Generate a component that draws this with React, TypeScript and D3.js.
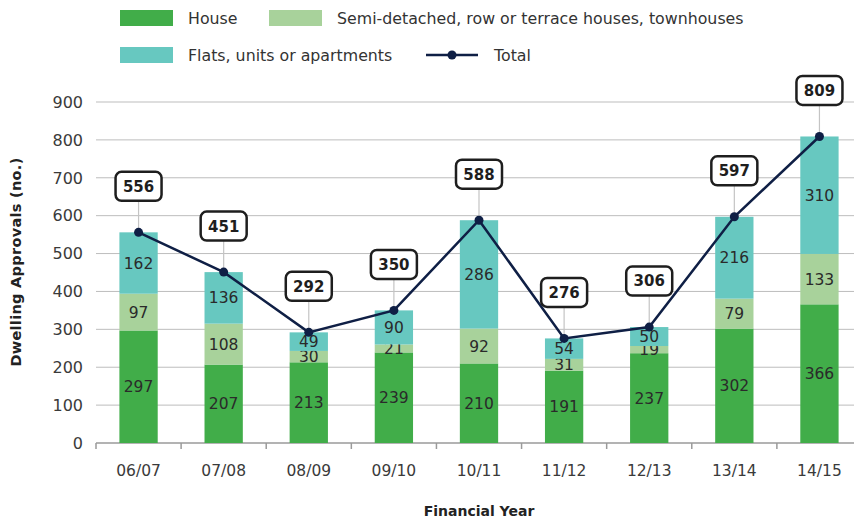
import { useEffect, useRef } from "react";
import * as d3 from "d3";

const years = ["06/07", "07/08", "08/09", "09/10", "10/11", "11/12", "12/13", "13/14", "14/15"];
const house = [297, 207, 213, 239, 210, 191, 237, 302, 366];
const semi = [97, 108, 30, 21, 92, 31, 19, 79, 133];
const flats = [162, 136, 49, 90, 286, 54, 50, 216, 310];
const total = [556, 451, 292, 350, 588, 276, 306, 597, 809];
const yTicks = [0, 100, 200, 300, 400, 500, 600, 700, 800, 900];

const seriesNames = ["House", "Semi-detached, row or terrace houses, townhouses", "Flats, units or apartments"];
const colors = ["#41ad49", "#a8d29b", "#67c8c0"];
const lineColor = "#0f1f45";
const font = "'DejaVu Sans', sans-serif";

export default function App() {
  const ref = useRef<SVGSVGElement>(null);

  useEffect(() => {
    if (!ref.current) return;
    const svg = d3.select(ref.current);
    svg.selectAll("*").remove();

    const width = 854;
    const height = 521;
    const margin = { top: 102, right: -8, bottom: 78, left: 96 };

    const x = d3
      .scaleBand()
      .domain(years)
      .range([margin.left, width - margin.right])
      .paddingInner(0.55)
      .paddingOuter(0.275);

    const y = d3
      .scaleLinear()
      .domain([0, 900])
      .range([height - margin.bottom, margin.top]);

    // Gridlines
    svg
      .append("g")
      .selectAll("line")
      .data(yTicks.slice(1))
      .join("line")
      .attr("x1", margin.left)
      .attr("x2", width - margin.right)
      .attr("y1", (d) => y(d))
      .attr("y2", (d) => y(d))
      .attr("stroke", "#bdbdbd")
      .attr("stroke-width", 1);

    // Y tick labels
    svg
      .append("g")
      .selectAll("text")
      .data(yTicks)
      .join("text")
      .attr("x", 83)
      .attr("y", (d) => y(d))
      .attr("dy", "0.36em")
      .attr("text-anchor", "end")
      .attr("fill", "#3a3a3a")
      .attr("font-size", "16px")
      .attr("font-family", font)
      .text((d) => d);

    // X axis
    const xAxis = svg.append("g").attr("transform", `translate(0,${y(0)})`);
    xAxis
      .append("line")
      .attr("x1", margin.left)
      .attr("x2", width - margin.right)
      .attr("stroke", "#9a9a9a")
      .attr("stroke-width", 1.5);
    const step = x.step();
    const edges = d3.range(years.length + 1).map((i) => margin.left + i * step);
    xAxis
      .selectAll(".tk")
      .data(edges)
      .join("line")
      .attr("class", "tk")
      .attr("x1", (d) => d)
      .attr("x2", (d) => d)
      .attr("y1", 0)
      .attr("y2", 6)
      .attr("stroke", "#9a9a9a")
      .attr("stroke-width", 1.5);
    xAxis
      .selectAll(".lbl")
      .data(years)
      .join("text")
      .attr("class", "lbl")
      .attr("x", (d) => x(d)! + x.bandwidth() / 2)
      .attr("y", 33)
      .attr("text-anchor", "middle")
      .attr("fill", "#3a3a3a")
      .attr("font-size", "15.5px")
      .attr("font-family", font)
      .text((d) => d);

    // Axis titles
    svg
      .append("text")
      .attr("x", 479)
      .attr("y", 516)
      .attr("text-anchor", "middle")
      .attr("fill", "#222")
      .attr("font-size", "14px")
      .attr("font-weight", "700")
      .attr("font-family", font)
      .text("Financial Year");

    svg
      .append("text")
      .attr("transform", "rotate(-90)")
      .attr("x", -262)
      .attr("y", 21)
      .attr("text-anchor", "middle")
      .attr("fill", "#222")
      .attr("font-size", "14.5px")
      .attr("font-weight", "700")
      .attr("letter-spacing", "0.3px")
      .attr("font-family", font)
      .text("Dwelling Approvals (no.)");

    // Stacked bars
    const rows = years.map((yr, i) => ({ year: yr, house: house[i], semi: semi[i], flats: flats[i] }));
    const stack = d3.stack<(typeof rows)[number]>().keys(["house", "semi", "flats"]);
    const layers = stack(rows);

    const gBars = svg.append("g");
    layers.forEach((layer, li) => {
      gBars
        .append("g")
        .selectAll("rect")
        .data(layer)
        .join("rect")
        .attr("x", (d) => x(d.data.year)!)
        .attr("width", x.bandwidth())
        .attr("y", (d) => y(d[1]))
        .attr("height", (d) => y(d[0]) - y(d[1]))
        .attr("fill", colors[li]);

      gBars
        .append("g")
        .selectAll("text")
        .data(layer)
        .join("text")
        .attr("x", (d) => x(d.data.year)! + x.bandwidth() / 2)
        .attr("y", (d) => (y(d[0]) + y(d[1])) / 2)
        .attr("dy", "0.36em")
        .attr("text-anchor", "middle")
        .attr("fill", "#2a2a2a")
        .attr("font-size", "15.5px")
        .attr("font-family", font)
        .text((d) => d[1] - d[0]);
    });

    // Callout connectors
    const cx = (i: number) => x(years[i])! + x.bandwidth() / 2;
    const boxOffset = 46;
    svg
      .append("g")
      .selectAll("line")
      .data(total)
      .join("line")
      .attr("x1", (_, i) => cx(i))
      .attr("x2", (_, i) => cx(i))
      .attr("y1", (d) => y(d) - boxOffset + 14)
      .attr("y2", (d) => y(d))
      .attr("stroke", "#c4c4c4")
      .attr("stroke-width", 1.2);

    // Total line
    const line = d3
      .line<number>()
      .x((_, i) => cx(i))
      .y((d) => y(d));
    svg
      .append("path")
      .datum(total)
      .attr("d", line)
      .attr("fill", "none")
      .attr("stroke", lineColor)
      .attr("stroke-width", 2.5);
    svg
      .append("g")
      .selectAll("circle")
      .data(total)
      .join("circle")
      .attr("cx", (_, i) => cx(i))
      .attr("cy", (d) => y(d))
      .attr("r", 4.5)
      .attr("fill", lineColor);

    // Callout boxes
    const boxes = svg
      .append("g")
      .selectAll("g")
      .data(total)
      .join("g")
      .attr("transform", (d, i) => `translate(${cx(i)},${y(d) - boxOffset})`);
    boxes
      .append("rect")
      .attr("x", -23)
      .attr("y", -14.5)
      .attr("width", 46)
      .attr("height", 29)
      .attr("rx", 6)
      .attr("fill", "#fff")
      .attr("stroke", "#1e1e1e")
      .attr("stroke-width", 2.5);
    boxes
      .append("text")
      .attr("text-anchor", "middle")
      .attr("dy", "0.36em")
      .attr("fill", "#1e1e1e")
      .attr("font-size", "15px")
      .attr("font-weight", "700")
      .attr("font-family", font)
      .text((d) => d);

    // Legend
    const legend = svg.append("g").attr("font-family", font).attr("font-size", "15.8px").attr("fill", "#333");
    const legendItems = [
      { x: 120, y: 18, label: seriesNames[0], color: colors[0] },
      { x: 269, y: 18, label: seriesNames[1], color: colors[1] },
      { x: 120, y: 55, label: seriesNames[2], color: colors[2] },
    ];
    legendItems.forEach((it) => {
      legend.append("rect").attr("x", it.x).attr("y", it.y - 8).attr("width", 53).attr("height", 16).attr("fill", it.color);
      legend.append("text").attr("x", it.x + 68).attr("y", it.y).attr("dy", "0.36em").text(it.label);
    });
    legend.append("line").attr("x1", 426).attr("x2", 478).attr("y1", 55).attr("y2", 55).attr("stroke", lineColor).attr("stroke-width", 2.5);
    legend.append("circle").attr("cx", 452).attr("cy", 55).attr("r", 4.5).attr("fill", lineColor);
    legend.append("text").attr("x", 494).attr("y", 55).attr("dy", "0.36em").text("Total");
  }, []);

  return (
    <svg
      ref={ref}
      width={854}
      height={521}
      style={{ position: "absolute", left: 0, top: 0, background: "#fff" }}
    />
  );
}
